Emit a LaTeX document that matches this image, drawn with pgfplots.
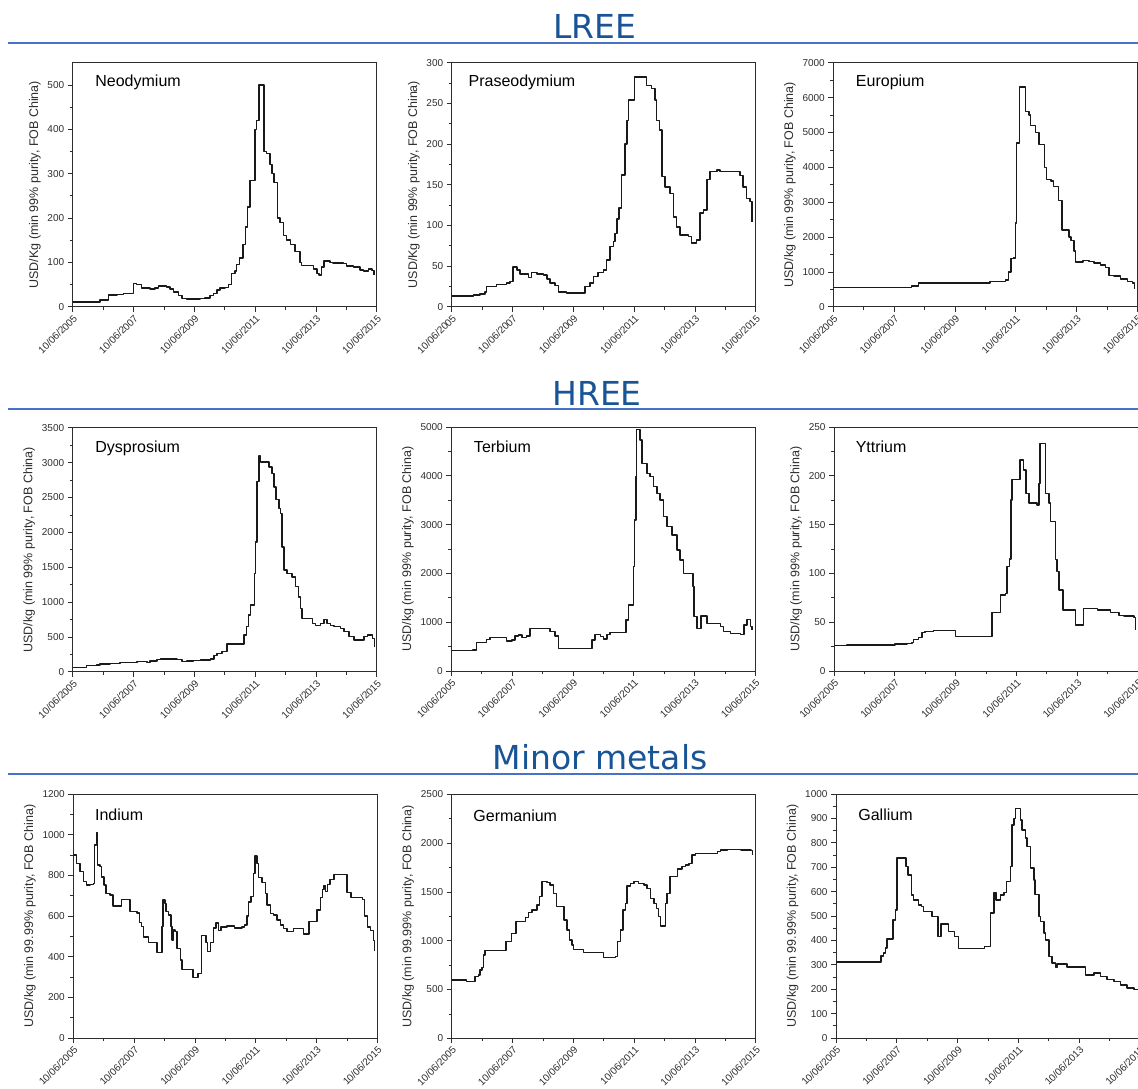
\documentclass[border=0pt]{standalone}
\usepackage{pgfplots}
\pgfplotsset{compat=1.18}
\usepackage{fontspec}
\setmainfont{Liberation Sans}
\newfontfamily\headfont{DejaVu Sans}
\definecolor{headblue}{RGB}{24,84,150}
\definecolor{ruleblue}{RGB}{72,114,200}
\definecolor{ink}{RGB}{45,45,45}

\pgfplotsset{
  panel/.style={
    scale only axis, width=304pt, height=244pt, anchor=south west,
    xmin=0, xmax=10, ymin=0,
    xtick={0,2,...,10}, minor xtick={1,3,...,9},
    xticklabels={10/06/2005,10/06/2007,10/06/2009,10/06/2011,10/06/2013,10/06/2015},
    x tick label style={rotate=45, anchor=north east, font=\fontsize{10}{12}\selectfont, text=ink, inner sep=1.5pt},
    y tick label style={font=\fontsize{10}{12}\selectfont, text=ink},
    ylabel style={font=\fontsize{12.5}{15}\selectfont, text=ink},
    minor y tick num=1,
    tick pos=left, tick align=outside,
    major tick length=5pt, minor tick length=3pt,
    every tick/.style={ink, line width=0.7pt},
    axis line style={ink, line width=0.8pt},
    /pgf/number format/1000 sep={},
    /pgf/number format/assume math mode=true,
    cycle list={{black}},
    every axis plot post/.append style={const plot, no marks, black!90, line width=1.5pt, line join=round},
  },
}
\tikzset{
  elem/.style={anchor=west, font=\fontsize{16}{19}\selectfont, text=black},
  head/.style={anchor=base, font=\headfont\fontsize{33}{36}\selectfont, text=headblue},
  hrule/.style={ruleblue, line width=1.8pt},
}

\begin{document}
\begin{tikzpicture}
\useasboundingbox (0pt,0pt) rectangle (1138pt,-1088pt);
\clip (0pt,0pt) rectangle (1138pt,-1088pt);

% section headings
\node[head] at (595pt,-38.3pt) {LREE};
\draw[hrule] (8pt,-43.3pt) -- (1138pt,-43.3pt);
\node[head] at (597pt,-405pt) {HREE};
\draw[hrule] (8pt,-409.3pt) -- (1138pt,-409.3pt);
\node[head] at (600pt,-769.3pt) {Minor metals};
\draw[hrule] (8pt,-774.3pt) -- (1138pt,-774.3pt);

% ---- LREE ----
\begin{axis}[panel, at={(72.7pt,-306.7pt)}, ymax=550, ytick={0,100,...,500},
  ylabel={USD/Kg (min 99\% purity, FOB China)}]
\addplot coordinates {(0,11)(0.9,15)(1.17,26)(1.45,28)(1.67,30)(2.0,52)(2.1,50)(2.27,42)(2.54,40)
 (2.71,42)(2.82,47)(3.09,44)(3.2,40)(3.31,33)(3.48,25)(3.59,18)(3.75,17)(4.19,18)(4.35,20)(4.52,25)
 (4.63,30)(4.74,38)(4.85,42)(5.01,43)(5.12,50)(5.23,75)(5.34,80)(5.39,95)(5.48,110)(5.61,140)
 (5.69,180)(5.75,225)(5.83,285)(5.94,285)(6.0,400)(6.05,420)(6.12,500)(6.18,500)(6.29,350)(6.38,345)
 (6.49,320)(6.55,300)(6.62,280)(6.74,200)(6.82,190)(6.93,160)(7.04,150)(7.17,140)(7.31,125)(7.48,100)
 (7.53,93)(7.81,93)(7.92,85)(8.03,75)(8.11,72)(8.19,90)(8.27,103)(8.46,100)(8.57,98)(8.9,97)(9.01,92)
 (9.23,90)(9.45,83)(9.56,80)(9.73,85)(9.84,82)(9.91,72)};
\node[elem] at (rel axis cs:0.063,0.92) {Neodymium};
\end{axis}

\begin{axis}[panel, at={(451.7pt,-306.6pt)}, ymax=300, ytick={0,50,...,300},
  ylabel={USD/Kg (min 99\% purity, FOB China)}]
\addplot coordinates {(0,13)(0.71,14)(0.93,15.5)(1.10,18)(1.15,25)(1.48,27)(1.81,29)(1.92,31)(2.01,49)
 (2.15,45)(2.25,40)(2.52,36)(2.63,42)(2.80,40)(3.02,39)(3.13,34)(3.23,29)(3.40,26)(3.51,18)(3.78,17)
 (4.39,25)(4.55,29)(4.66,37)(4.82,42)(4.99,45)(5.10,57)(5.21,74)(5.32,80)(5.37,90)(5.43,108)(5.50,121)
 (5.59,162)(5.70,200)(5.76,229)(5.81,254)(6.01,282)(6.36,282)(6.41,272)(6.58,268)(6.69,254)(6.74,229)
 (6.83,217)(6.91,160)(7.02,147)(7.18,139)(7.29,110)(7.40,98)(7.51,88)(7.79,86)(7.89,78)(8.06,82)
 (8.17,115)(8.28,119)(8.39,156)(8.50,166)(8.72,168)(8.83,166)(9.27,166)(9.48,161)(9.59,147)(9.70,133)
 (9.81,129)(9.87,104)};
\node[elem] at (rel axis cs:0.044,0.92) {Praseodymium};
\end{axis}

\begin{axis}[panel, at={(833.3pt,-306.7pt)}, ymax=7000, ytick={0,1000,...,7000},
  ylabel={USD/kg (min 99\% purity, FOB China)}]
\addplot coordinates {(0,550)(2.58,600)(2.80,680)(5.16,720)(5.66,760)(5.77,1000)(5.85,1380)(5.93,1400)
 (5.99,2400)(6.02,4700)(6.12,6300)(6.32,5600)(6.43,5500)(6.48,5200)(6.65,5000)(6.76,4650)(6.95,4000)
 (7.01,3650)(7.16,3600)(7.25,3450)(7.40,3050)(7.53,2200)(7.75,2000)(7.82,1900)(7.91,1600)(7.97,1280)
 (8.22,1330)(8.41,1300)(8.57,1250)(8.79,1200)(8.96,1130)(9.07,900)(9.23,880)(9.45,800)(9.67,720)
 (9.84,680)(9.91,500)};
\node[elem] at (rel axis cs:0.063,0.92) {Europium};
\end{axis}

% ---- HREE ----
\begin{axis}[panel, at={(72.7pt,-671.7pt)}, ymax=3500, ytick={0,500,...,3500},
  ylabel={USD/kg (min 99\% purity, FOB China)}]
\addplot coordinates {(0,62)(0.46,86)(0.79,96)(0.90,110)(1.23,120)(1.56,130)(2.11,143)(2.44,134)(2.55,153)
 (2.77,177)(2.88,182)(3.43,172)(3.59,143)(3.76,153)(3.98,158)(4.20,167)(4.53,182)(4.64,230)(4.75,263)
 (4.91,287)(5.08,397)(5.63,526)(5.71,645)(5.79,813)(5.85,956)(5.98,1410)(6.01,1864)(6.07,2725)
 (6.12,3097)(6.18,3011)(6.46,2940)(6.56,2844)(6.62,2653)(6.69,2471)(6.78,2342)(6.84,2270)(6.89,1792)
 (6.95,1458)(7.05,1410)(7.22,1362)(7.33,1219)(7.42,1075)(7.49,908)(7.55,765)(7.88,693)(7.99,660)
 (8.15,693)(8.26,750)(8.37,693)(8.48,660)(8.59,645)(8.81,621)(8.92,574)(9.09,502)(9.25,454)(9.58,502)
 (9.69,526)(9.86,478)(9.93,358)};
\node[elem] at (rel axis cs:0.063,0.917) {Dysprosium};
\end{axis}

\begin{axis}[panel, at={(451.3pt,-671pt)}, ymax=5000, ytick={0,1000,...,5000},
  ylabel={USD/kg (min 99\% purity, FOB China)}]
\addplot coordinates {(0,417)(0.72,430)(0.83,580)(1.16,650)(1.27,683)(1.82,615)(1.99,635)(2.10,717)
 (2.21,738)(2.32,683)(2.48,717)(2.59,874)(3.25,806)(3.41,717)(3.52,464)(4.46,464)(4.62,635)(4.73,751)
 (4.90,703)(5.01,656)(5.12,751)(5.22,785)(5.75,1045)(5.83,1352)(5.99,2138)(6.03,3094)(6.08,3982)
 (6.10,4950)(6.21,4733)(6.27,4255)(6.43,4050)(6.54,3982)(6.65,3777)(6.76,3640)(6.87,3504)(6.98,3162)
 (7.09,2957)(7.26,2787)(7.42,2479)(7.53,2274)(7.64,2001)(7.95,1728)(7.99,1113)(8.08,874)(8.21,1127)
 (8.41,977)(8.85,908)(8.96,806)(9.18,772)(9.51,751)(9.62,943)(9.73,1059)(9.84,908)(9.89,840)};
\node[elem] at (rel axis cs:0.063,0.917) {Terbium};
\end{axis}

\begin{axis}[panel, at={(834pt,-671pt)}, ymax=250, ytick={0,50,...,250},
  ylabel={USD/kg (min 99\% purity, FOB China)}]
\addplot coordinates {(0,26)(0.42,26.6)(2.01,27.7)(2.40,28.3)(2.56,29)(2.62,32.4)(2.78,34.5)(2.89,39.3)
 (3.00,40.3)(3.27,41.3)(3.99,35.2)(5.20,59.8)(5.47,77.9)(5.64,79.6)(5.69,107)(5.78,115)(5.82,175)
 (5.86,196)(6.11,216)(6.24,206)(6.32,182)(6.41,172)(6.68,170)(6.74,192)(6.77,233)(6.96,182)(7.07,172)
 (7.12,153)(7.29,114)(7.34,102)(7.40,83)(7.54,62.5)(7.95,47)(8.20,64)(8.66,62.5)(9.10,60)(9.37,57)
 (9.54,56.4)(9.87,55)(9.92,42)};
\node[elem] at (rel axis cs:0.06,0.917) {Yttrium};
\end{axis}

% ---- Minor metals ----
\begin{axis}[panel, at={(73.3pt,-1038pt)}, ymax=1200, ytick={0,200,...,1200},
  ylabel={USD/kg (min 99.99\% purity, FOB China)}]
\addplot coordinates {(0,900)(0.11,859)(0.22,818)(0.33,769)(0.44,752)(0.55,756)(0.66,760)(0.70,950)
 (0.76,1010)(0.79,850)(0.88,843)(0.93,793)(1.01,752)(1.08,711)(1.21,703)(1.30,650)(1.59,680)(1.87,621)
 (2.09,616)(2.18,567)(2.25,548)(2.31,498)(2.47,469)(2.75,420)(2.91,548)(2.95,679)(3.02,662)(3.05,621)
 (3.13,605)(3.21,548)(3.24,482)(3.30,531)(3.35,523)(3.41,441)(3.52,384)(3.57,338)(3.93,298)(4.10,318)
 (4.22,505)(4.36,470)(4.42,426)(4.52,470)(4.62,540)(4.70,566)(4.78,530)(4.86,545)(5.05,550)(5.30,540)
 (5.55,545)(5.63,555)(5.71,600)(5.77,670)(5.85,695)(5.93,810)(5.97,895)(6.04,859)(6.10,790)(6.21,764)
 (6.32,711)(6.37,654)(6.48,613)(6.59,605)(6.70,580)(6.81,556)(6.92,539)(7.03,523)(7.25,539)(7.58,511)
 (7.75,572)(8.02,629)(8.13,690)(8.19,730)(8.24,750)(8.30,720)(8.36,755)(8.45,780)(8.57,805)(9.01,715)
 (9.14,690)(9.45,690)(9.51,680)(9.58,600)(9.67,545)(9.78,530)(9.87,480)(9.91,430)};
\node[elem] at (rel axis cs:0.06,0.914) {Indium};
\end{axis}

\begin{axis}[panel, at={(451.7pt,-1038.3pt)}, ymax=2500, ytick={0,500,...,2500},
  ylabel={USD/kg (min 99.99\% purity, FOB China)}]
\addplot coordinates {(0,598)(0.49,581)(0.77,632)(0.88,649)(0.93,700)(0.99,727)(1.04,854)(1.10,898)
 (1.79,990)(1.96,1076)(2.12,1195)(2.42,1240)(2.53,1288)(2.64,1315)(2.80,1366)(2.89,1452)(2.97,1605)
 (3.13,1598)(3.24,1571)(3.35,1486)(3.44,1349)(3.70,1212)(3.79,1110)(3.88,1007)(3.96,956)(4.01,912)
 (4.34,878)(5.00,826)(5.38,837)(5.46,990)(5.55,1110)(5.64,1315)(5.71,1383)(5.77,1561)(5.88,1588)
 (5.99,1605)(6.15,1588)(6.32,1571)(6.43,1537)(6.54,1434)(6.65,1383)(6.74,1332)(6.81,1247)(6.87,1151)
 (7.03,1383)(7.09,1486)(7.18,1656)(7.42,1735)(7.58,1759)(7.69,1776)(7.80,1793)(7.91,1878)(8.02,1895)
 (8.74,1912)(8.85,1930)(9.07,1937)(9.51,1930)(9.84,1923)(9.89,1878)};
\node[elem] at (rel axis cs:0.06,0.914) {Germanium};
\end{axis}

\begin{axis}[panel, at={(836pt,-1038pt)}, ymax=1000, ytick={0,100,...,1000},
  ylabel={USD/kg (min 99.99\% purity, FOB China)}]
\addplot coordinates {(0,311)(1.48,337)(1.56,348)(1.62,368)(1.67,405)(1.87,484)(1.95,525)(2.00,737)
 (2.31,703)(2.36,668)(2.49,587)(2.55,566)(2.71,546)(2.82,539)(2.88,518)(3.15,498)(3.35,416)(3.45,468)
 (3.70,437)(3.89,416)(4.03,366)(4.88,375)(5.08,512)(5.19,596)(5.27,566)(5.41,587)(5.52,596)(5.60,641)
 (5.74,703)(5.79,873)(5.85,900)(5.90,941)(6.07,894)(6.12,853)(6.23,819)(6.29,785)(6.40,696)(6.51,648)
 (6.54,589)(6.67,498)(6.73,478)(6.84,430)(6.89,402)(7.00,334)(7.11,307)(7.22,289)(7.27,303)(7.60,291)
 (8.21,259)(8.48,266)(8.70,252)(8.92,239)(9.14,232)(9.36,218)(9.58,205)(9.80,198)(9.97,198)};
\node[elem] at (rel axis cs:0.062,0.914) {Gallium};
\end{axis}
\end{tikzpicture}
\end{document}
